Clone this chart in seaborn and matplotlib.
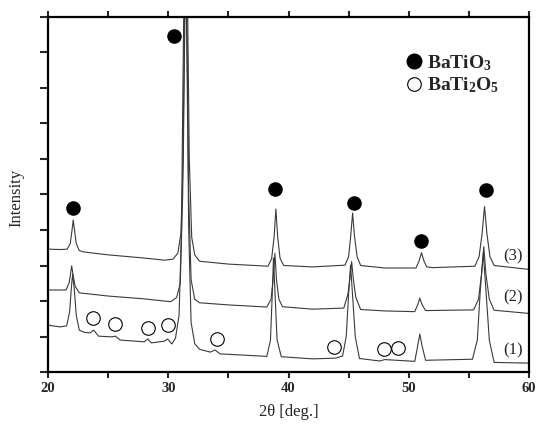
import numpy as np
import pandas as pd
import matplotlib
matplotlib.use("Agg")
import matplotlib.pyplot as plt
import seaborn as sns
from matplotlib.lines import Line2D

sns.set_style("ticks")
plt.rcParams["font.family"] = ["Liberation Serif", "DejaVu Serif"]
plt.rcParams["mathtext.fontset"] = "custom"
plt.rcParams["mathtext.rm"] = "Liberation Serif:bold"
plt.rcParams["mathtext.it"] = "Liberation Serif:bold"
plt.rcParams["mathtext.bf"] = "Liberation Serif:bold"

# ---- data (2theta in deg, intensity in a.u.) ----
x3 = [20, 21.0, 21.6, 21.85, 21.98, 22.1, 22.22, 22.35, 22.6, 23.0, 25, 28, 29.7, 30.4, 30.8,
      31.05, 31.25, 31.4, 31.5, 31.6, 31.75, 31.95, 32.2, 32.6, 35, 38.3, 38.6, 38.8, 38.95,
      39.1, 39.3, 39.6, 42, 44.7, 45.0, 45.18, 45.33, 45.48, 45.7, 46.0, 48, 50.6, 50.85,
      51.06, 51.27, 51.5, 52, 55.5, 55.85, 56.1, 56.3, 56.5, 56.75, 57.1, 60]
y3 = [3.46, 3.45, 3.46, 3.62, 3.95, 4.28, 3.95, 3.62, 3.42, 3.38, 3.30, 3.21, 3.15, 3.18, 3.35,
      3.9, 6.0, 10.5, 13.0, 10.5, 6.0, 3.8, 3.3, 3.12, 3.04, 2.98, 3.2, 3.8, 4.59,
      3.8, 3.2, 3.0, 2.96, 3.01, 3.25, 3.85, 4.48, 3.85, 3.25, 3.0, 2.93, 2.93, 3.12,
      3.36, 3.12, 2.96, 2.94, 2.98, 3.25, 3.9, 4.66, 3.9, 3.25, 3.0, 2.89]

x2 = [20, 21.5, 21.75, 21.87, 21.97, 22.1, 22.25, 22.6, 25, 28, 30.2, 30.7, 31.0, 31.2, 31.35,
      31.45, 31.55, 31.7, 31.9, 32.2, 32.6, 35, 38.2, 38.55, 38.72, 38.87, 39.0, 39.2, 39.5,
      42, 44.6, 44.95, 45.1, 45.25, 45.4, 45.6, 46.0, 48, 50.5, 50.75, 50.92, 51.1, 51.4,
      55.4, 55.8, 56.05, 56.24, 56.42, 56.7, 57.1, 60]
y2 = [2.31, 2.31, 2.5, 2.75, 2.99, 2.7, 2.42, 2.23, 2.14, 2.06, 1.98, 2.1, 2.5, 5.0, 10.0,
      13.0, 10.0, 5.0, 2.6, 2.05, 1.95, 1.89, 1.83, 2.05, 2.6, 3.34, 2.6, 2.05, 1.84,
      1.77, 1.80, 2.2, 2.62, 3.11, 2.6, 2.1, 1.76, 1.72, 1.70, 1.90, 2.08, 1.90, 1.73,
      1.75, 2.05, 2.75, 3.53, 2.75, 2.05, 1.74, 1.65]

x1 = [20, 21.0, 21.55, 21.8, 21.95, 22.05, 22.18, 22.35, 22.6, 23.0, 23.5, 23.8, 24.2, 25.3,
      25.6, 26.0, 28.0, 28.3, 28.6, 29.7, 29.95, 30.3, 30.6, 30.9, 31.1, 31.25, 31.4, 31.55,
      31.7, 31.9, 32.2, 32.6, 33.5, 33.9, 34.3, 36, 38.2, 38.5, 38.65, 38.75, 38.88, 39.05,
      39.4, 42, 43.9, 44.5, 44.8, 45.0, 45.16, 45.32, 45.55, 45.9, 47.6, 48.0, 50.5, 50.75,
      50.92, 51.1, 51.4, 55.3, 55.7, 55.95, 56.2, 56.42, 56.7, 57.1, 60]
y1 = [1.32, 1.27, 1.30, 1.7, 2.4, 2.76, 2.35, 1.6, 1.18, 1.12, 1.10, 1.18, 1.01, 0.99,
      1.01, 0.90, 0.85, 0.93, 0.82, 0.87, 0.93, 0.79, 0.95, 1.6, 4.0, 9.0, 13.0, 9.0,
      4.0, 1.4, 0.8, 0.64, 0.56, 0.62, 0.51, 0.48, 0.44, 0.9, 2.2, 3.21, 2.2, 0.9,
      0.43, 0.37, 0.39, 0.45, 1.0, 2.2, 3.01, 2.2, 1.0, 0.38, 0.31, 0.35, 0.30, 0.75,
      1.07, 0.75, 0.33, 0.36, 0.9, 2.3, 3.35, 2.3, 0.9, 0.27, 0.25]

batio3_x = [22.1, 30.47, 38.87, 45.44, 51.0, 56.4]
batio3_y = [4.62, 9.46, 5.15, 4.76, 3.69, 5.13]
bati2o5_x = [23.77, 25.57, 28.34, 29.95, 34.02, 43.8, 47.93, 49.12]
bati2o5_y = [1.51, 1.35, 1.23, 1.32, 0.92, 0.71, 0.64, 0.67]

curve_labels = ["(3)", "(2)", "(1)"]
curve_label_x = [58.65, 58.65, 58.65]
curve_label_y = [3.25, 2.10, 0.62]
xticks = [20, 30, 40, 50, 60]

fig = plt.figure(figsize=(5.36, 4.25), dpi=100)
ax = fig.add_axes([48 / 536, 53 / 425, 481 / 536, 355 / 425])

for xs, ys in [(x1, y1), (x2, y2), (x3, y3)]:
    df = pd.DataFrame({"x": xs, "y": ys})
    sns.lineplot(data=df, x="x", y="y", ax=ax, sort=False, estimator=None,
                 color="#3a3a3a", linewidth=0.8)

sns.scatterplot(x=batio3_x, y=batio3_y, ax=ax, s=110, color="black",
                edgecolor="black", linewidth=0, zorder=5)
sns.scatterplot(x=bati2o5_x, y=bati2o5_y, ax=ax, s=95, facecolor="white",
                edgecolor="black", linewidth=0.8, zorder=5)

for lab, lx, ly in zip(curve_labels, curve_label_x, curve_label_y):
    ax.text(lx, ly, lab, ha="center", va="center", fontsize=12)

ax.set_xlim(20, 60)
ax.set_ylim(0, 10)
ax.set_xticks(xticks)
ax.set_xticks([25, 35, 45, 55], minor=True)
ax.set_yticks(np.arange(0, 11, 1))
ax.set_yticklabels([])
ax.tick_params(axis="x", which="both", direction="out", top=True, bottom=True,
               length=4, width=1.5, pad=3, labelsize=10.5)
ax.tick_params(axis="y", which="both", direction="out", left=True, right=False,
               length=6, width=1.5)
for lbl in ax.get_xticklabels():
    lbl.set_fontweight("bold")
for sp in ax.spines.values():
    sp.set_visible(True)
    sp.set_linewidth(1.6)
    sp.set_color("black")

ax.set_xlabel("2θ [deg.]", fontsize=12, labelpad=7)
ax.set_ylabel("Intensity", fontsize=12)
ax.yaxis.set_label_coords(-0.05, 0.49)

handles = [
    Line2D([], [], marker="o", linestyle="none", markersize=10.5,
           markerfacecolor="black", markeredgecolor="black"),
    Line2D([], [], marker="o", linestyle="none", markersize=9.8,
           markerfacecolor="white", markeredgecolor="black", markeredgewidth=0.8),
]
ax.legend(handles, [r"$\mathrm{BaTiO_3}$", r"$\mathrm{BaTi_2O_5}$"],
          loc="upper left", bbox_to_anchor=(0.72, 0.92), frameon=False,
          fontsize=14, handletextpad=0.1, labelspacing=0.15, handlelength=1.2,
          borderaxespad=0)

fig.savefig("out.png", dpi=100)
